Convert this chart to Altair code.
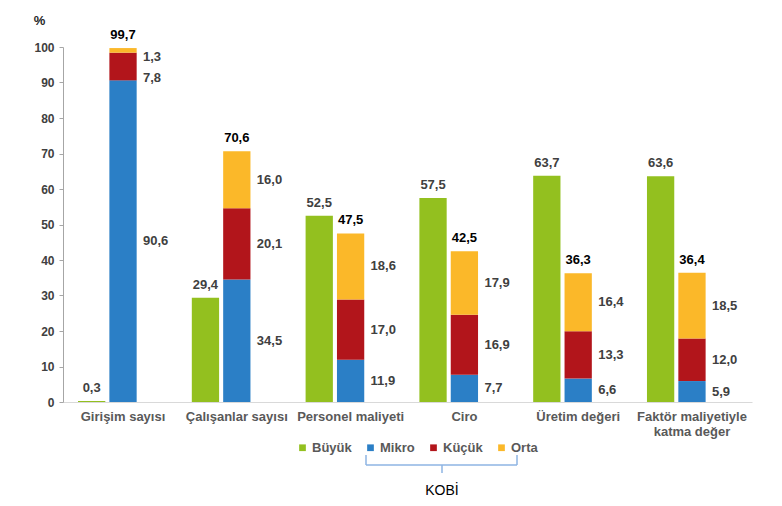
import altair as alt
import pandas as pd

categories = ["Girişim sayısı", "Çalışanlar sayısı", "Personel maliyeti",
              "Ciro", "Üretim değeri", "Faktör maliyetiyle|katma değer"]
buyuk = [0.3, 29.4, 52.5, 57.5, 63.7, 63.6]
mikro = [90.6, 34.5, 11.9, 7.7, 6.6, 5.9]
kucuk = [7.8, 20.1, 17.0, 16.9, 13.3, 12.0]
orta = [1.3, 16.0, 18.6, 17.9, 16.4, 18.5]
kobi_total = [99.7, 70.6, 47.5, 42.5, 36.3, 36.4]
y_ticks = [0, 10, 20, 30, 40, 50, 60, 70, 80, 90, 100]

series_names = ["Büyük", "Mikro", "Küçük", "Orta"]
series_colors = ["#93C01F", "#2B7FC6", "#B2151B", "#FBB829"]


def fmt(v):
    return f"{v:.1f}".replace(".", ",")


rows = []
for i, c in enumerate(categories):
    rows.append(dict(cat=c, grp="Büyük", series="Büyük", y0=0, y1=buyuk[i],
                     label=fmt(buyuk[i]), ly=buyuk[i]))
    base = 0
    segs = [("Mikro", mikro[i]), ("Küçük", kucuk[i]), ("Orta", orta[i])]
    mids = []
    for name, v in segs:
        mids.append(base + v / 2)
        rows.append(dict(cat=c, grp="KOBİ", series=name, y0=base, y1=base + v,
                         label=fmt(v), ly=base + v / 2))
        base += v
    # push small-segment labels apart (top-down)
    top = base
    ly_orta = min(mids[2], top - 2.5)
    ly_kucuk = min(mids[1], ly_orta - 6)
    ly_mikro = min(mids[0], ly_kucuk - 6)
    rows[-1]["ly"] = ly_orta
    rows[-2]["ly"] = ly_kucuk
    rows[-3]["ly"] = ly_mikro

df = pd.DataFrame(rows)
tot = pd.DataFrame(dict(cat=categories, grp="KOBİ", total=kobi_total,
                        label=[fmt(v) for v in kobi_total]))

FONT = "Liberation Sans"
xaxis = alt.Axis(labelExpr="split(datum.label, '|')", labelAngle=0,
                 ticks=False, labelPadding=8, labelFont=FONT,
                 labelFontSize=13, labelFontWeight="bold",
                 labelColor="#595959", domainColor="#D9D9D9",
                 labelBaseline="top", title=None)
xenc = alt.X("cat:N", sort=categories, title=None,
             scale=alt.Scale(paddingInner=0.209, paddingOuter=0.132),
             axis=xaxis)
xoff = alt.XOffset("grp:N", scale=alt.Scale(domain=["Büyük", "KOBİ", "pad"],
                                           paddingInner=0.13, paddingOuter=0))
yscale = alt.Scale(domain=[0, 100], nice=False)
yaxis = alt.Axis(values=y_ticks, tickCount=len(y_ticks), grid=False, labelOverlap=False,
                 labelFont=FONT, labelFontSize=12, labelFontWeight="bold",
                 labelColor="#404040", domainColor="#A6A6A6",
                 tickColor="#A6A6A6", tickSize=4, labelPadding=5,
                 title="%",
                 titleAngle=0, titleX=-24, titleY=-27,
                 titleAlign="center", titleBaseline="middle",
                 titleFont=FONT, titleFontSize=13, titleFontWeight="bold",
                 titleColor="#262626")


def yq(field):
    return alt.Y(field, scale=yscale, title="%", axis=yaxis)


bars = alt.Chart(df).mark_bar().encode(
    x=xenc, xOffset=xoff,
    y=yq("y1:Q"),
    y2="y0:Q",
    color=alt.Color("series:N",
                    scale=alt.Scale(domain=series_names, range=series_colors),
                    legend=alt.Legend(title=None, orient="none", direction="horizontal",
                                      legendX=233, legendY=394, symbolType="square",
                                      symbolSize=45, symbolStrokeWidth=0,
                                      labelFont=FONT, labelFontSize=13,
                                      labelFontWeight="bold", labelColor="#595959",
                                      labelOffset=3, columnPadding=12)),
)

buyuk_lbl = alt.Chart(df).transform_filter(alt.datum.series == "Büyük").mark_text(
    font=FONT, fontSize=13, fontWeight="bold", color="#404040",
    baseline="bottom", dy=-6).encode(
    x=xenc, xOffset=xoff, y=yq("y1:Q"), text="label:N")

tot_lbl = alt.Chart(tot).mark_text(
    font=FONT, fontSize=13, fontWeight="bold", color="#000000",
    baseline="bottom", dy=-6).encode(
    x=xenc, xOffset=xoff, y=yq("total:Q"), text="label:N")

seg_lbl = alt.Chart(df).transform_filter(alt.datum.series != "Büyük").mark_text(
    font=FONT, fontSize=13, fontWeight="bold", color="#404040",
    align="left", baseline="middle", dx=20).encode(
    x=xenc, xOffset=xoff, y=yq("ly:Q"), text="label:N")

one = pd.DataFrame({"k": [0]})
bcol = "#8EB4E3"
br_h = alt.Chart(one).mark_rule(color=bcol, strokeWidth=1.5).encode(
    x=alt.value(303), x2=alt.value(454), y=alt.value(418))
br_l = alt.Chart(one).mark_rule(color=bcol, strokeWidth=1.5).encode(
    x=alt.value(303), y=alt.value(408), y2=alt.value(418))
br_r = alt.Chart(one).mark_rule(color=bcol, strokeWidth=1.5).encode(
    x=alt.value(454), y=alt.value(408), y2=alt.value(418))
br_c = alt.Chart(one).mark_rule(color=bcol, strokeWidth=1.5).encode(
    x=alt.value(379), y=alt.value(418), y2=alt.value(426))
kobi = alt.Chart(one).mark_text(font=FONT, fontSize=14, color="#000000",
                                baseline="middle").encode(
    x=alt.value(379), y=alt.value(444), text=alt.value("KOBİ"))

chart = alt.layer(bars, buyuk_lbl, tot_lbl, seg_lbl, br_h, br_l, br_r, br_c, kobi).properties(
    width=689, height=355,
    autosize=alt.AutoSizeParams(type="none"),
    padding={"left": 55, "top": 39, "right": 20, "bottom": 95},
    background="white",
).configure_view(stroke=None)

chart.save("out.html", embed_options={"renderer": "svg", "actions": False})
